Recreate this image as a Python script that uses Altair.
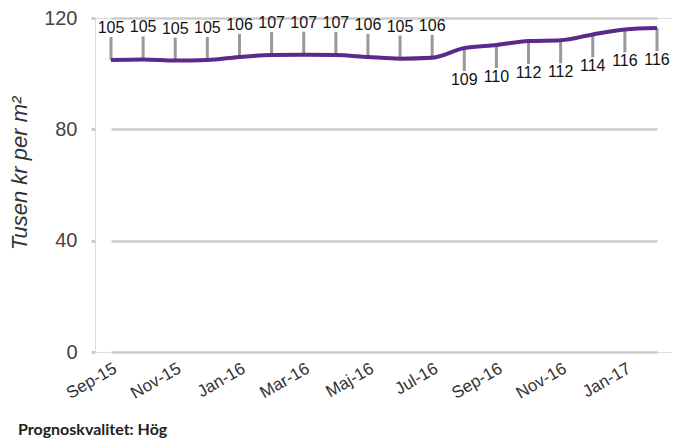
import altair as alt
import pandas as pd

months = ["Sep-15", "Okt-15", "Nov-15", "Dec-15", "Jan-16", "Feb-16", "Mar-16", "Apr-16",
          "Maj-16", "Jun-16", "Jul-16", "Aug-16", "Sep-16", "Okt-16", "Nov-16", "Dec-16",
          "Jan-17", "Feb-17"]
values = [104.9, 105.1, 104.7, 104.9, 106.0, 106.7, 106.8, 106.7, 106.0, 105.4, 105.7,
          109.2, 110.3, 111.7, 112.0, 114.1, 115.9, 116.4]
label_pos = ["above"] * 11 + ["below"] * 7
tick_months = months[::2]
y_ticks = [0, 40, 80, 120]

df = pd.DataFrame({"month": months, "value": values, "pos": label_pos})
df["label"] = [str(int(round(v))) for v in values]

x_enc = alt.X("month:N", sort=months,
              scale=alt.Scale(type="point", range=[16, 562], padding=0),
              axis=alt.Axis(values=tick_months, title=None, labelAngle=-30,
                            labelFontSize=17, labelColor="#333333", labelFont="Liberation Sans",
                            ticks=False, domain=False, grid=False, labelPadding=8))
y_enc = alt.Y("value:Q", scale=alt.Scale(domain=[0, 120], nice=False, zero=True),
              axis=alt.Axis(values=y_ticks, title="Tusen kr per m²", titleFontStyle="italic",
                            titleFontWeight="normal", titleFontSize=22, titleFont="Liberation Sans",
                            titleColor="#333333", titleX=-64, titleY=155,
                            labelFontSize=20, labelFont="Liberation Sans", labelColor="#444444",
                            labelPadding=14, tickSize=4, tickColor="#cccccc", tickWidth=3,
                            domain=False, grid=True, gridColor="#cccccc", gridWidth=2.5))

base = alt.Chart(df)

rules_above = base.transform_filter(alt.datum.pos == "above").mark_rule(
    color="#999999", strokeWidth=3, y2Offset=-23).encode(x=x_enc, y=y_enc, y2="value:Q")
rules_below = base.transform_filter(alt.datum.pos == "below").mark_rule(
    color="#999999", strokeWidth=3, y2Offset=23).encode(x=x_enc, y=y_enc, y2="value:Q")

line = base.mark_line(color="#592a8a", strokeWidth=4, interpolate="monotone").encode(
    x=x_enc, y=y_enc)

text_above = base.transform_filter(alt.datum.pos == "above").mark_text(
    dy=-32, fontSize=16, font="Liberation Sans", color="#111111", baseline="middle").encode(
    x=x_enc, y=y_enc, text="label:N")
text_below = base.transform_filter(alt.datum.pos == "below").mark_text(
    dy=32, fontSize=16, font="Liberation Sans", color="#111111", baseline="middle").encode(
    x=x_enc, y=y_enc, text="label:N")

chart = alt.layer(rules_above, rules_below, line, text_above, text_below).properties(
    width=577, height=334,
    title=alt.TitleParams("Prognoskvalitet: Hög", orient="bottom", anchor="start",
                          frame="group", dx=-77, offset=21, fontSize=16, font="Lato",
                          fontWeight="bold", color="#222222"),
    autosize=alt.AutoSizeParams(type="none"),
    padding={"left": 87, "top": 10, "right": 0, "bottom": 87},
).configure_view(stroke=None).configure(background="white")

chart.save("out.html", embed_options={"renderer": "svg", "actions": False})
